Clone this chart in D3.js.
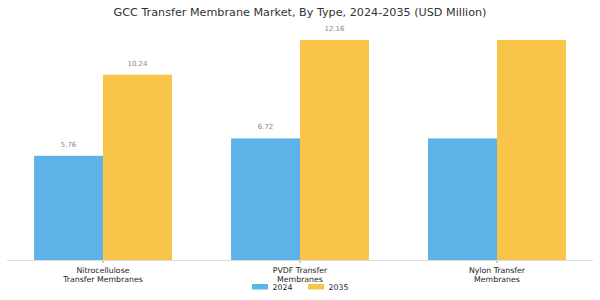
<!DOCTYPE html>
<html><head><meta charset="utf-8">
<script src="https://cdn.jsdelivr.net/npm/d3@7"></script>
<style>body{margin:0;background:#fff}svg{display:block;font-family:"DejaVu Sans",sans-serif}</style>
</head><body><svg id="c" width="600" height="300"></svg>
<script>
const categories = [["Nitrocellulose","Transfer Membranes"],["PVDF Transfer","Membranes"],["Nylon Transfer","Membranes"]];
const years = ["2024","2035"];
const values2024 = [5.76, 6.72, 6.72];
const values2035 = [10.24, 12.16, 12.16];
const showLabel = [true, true, false];
const colors = ["#5DB3E8", "#F9C44A"];

const svg = d3.select("#c");
const baseY = 260;
const x = d3.scaleBand().domain(d3.range(categories.length)).range([4.5, 595.5]).paddingInner(0.3).paddingOuter(0.15);
const xs = d3.scaleBand().domain(years).range([0, x.bandwidth()]);
const y = d3.scaleLinear().domain([0, 12.16]).range([baseY, 40]);

svg.append("text").attr("x", 300).attr("y", 16).attr("text-anchor", "middle")
  .attr("font-size", 11.2).attr("fill", "#333").text("GCC Transfer Membrane Market, By Type, 2024-2035 (USD Million)");

const series = [values2024, values2035];
series.forEach((vals, si) => {
  svg.append("g").selectAll("rect").data(vals).join("rect")
    .attr("x", (d, i) => x(i) + xs(years[si]))
    .attr("y", d => y(d))
    .attr("width", xs.bandwidth())
    .attr("height", d => baseY - y(d))
    .attr("fill", colors[si]);
  svg.append("g").selectAll("text").data(vals).join("text")
    .filter((d, i) => showLabel[i])
    .attr("x", (d, i) => x(i) + xs(years[si]) + xs.bandwidth() / 2)
    .attr("y", d => y(d) - 9)
    .attr("text-anchor", "middle").attr("font-size", 7).attr("fill", "#888")
    .text(d => d.toFixed(2));
});

const xAxis = d3.axisBottom(x).tickSize(3).tickFormat("");
const ax = svg.append("g").attr("transform", `translate(0,${baseY})`).call(xAxis);
ax.select(".domain").remove();
ax.selectAll(".tick line").attr("stroke", "#999");
svg.append("line").attr("x1", 7).attr("x2", 593).attr("y1", baseY + 0.5).attr("y2", baseY + 0.5).attr("stroke", "#ddd");

categories.forEach((lines, i) => {
  const t = svg.append("text").attr("x", x(i) + x.bandwidth() / 2).attr("y", 272.5)
    .attr("text-anchor", "middle").attr("font-size", 7.8).attr("fill", "#222");
  lines.forEach((l, j) => t.append("tspan").attr("x", x(i) + x.bandwidth() / 2).attr("dy", j ? 9 : 0).text(l));
});

const lg = svg.append("g");
years.forEach((yr, i) => {
  const lx = 252 + i * 56;
  lg.append("rect").attr("x", lx).attr("y", 284).attr("width", 16).attr("height", 5.5).attr("fill", colors[i]);
  lg.append("text").attr("x", lx + 20.5).attr("y", 289.8).attr("font-size", 7.8).attr("fill", "#222").text(yr);
});
</script></body></html>
